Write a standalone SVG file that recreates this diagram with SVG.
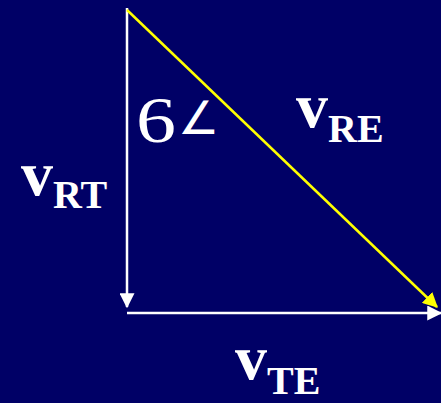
<svg xmlns="http://www.w3.org/2000/svg" width="441" height="403" viewBox="0 0 441 403">
<style>
.lbl{font-family:"Liberation Serif","Times New Roman",serif;font-weight:bold;fill:#fff}
.v{font-size:64px}
.s{font-size:40px}
</style>
<defs>
<marker id="aw" markerWidth="6" markerHeight="6" refX="5.5" refY="3" orient="auto" markerUnits="strokeWidth"><path d="M0,0 L6,3 L0,6 Z" fill="#fff"/></marker>
<marker id="ay" markerWidth="6" markerHeight="6" refX="5.5" refY="3" orient="auto" markerUnits="strokeWidth"><path d="M0,0 L6,3 L0,6 Z" fill="#ff0"/></marker>
</defs>
<rect width="441" height="403" fill="#000066"/>
<g id="connectors">
<line x1="127" y1="8" x2="127" y2="307" stroke="#fff" stroke-width="2.5" marker-end="url(#aw)"/>
<line x1="127" y1="313" x2="441" y2="313" stroke="#fff" stroke-width="2.5" marker-end="url(#aw)"/>
<line x1="127" y1="10" x2="437" y2="307" stroke="#ff0" stroke-width="2.5" marker-end="url(#ay)"/>
</g>
<g id="angle"><text x="136" y="142" font-family="'Liberation Serif',serif" font-size="66" fill="#fff"><tspan textLength="40" lengthAdjust="spacingAndGlyphs">6</tspan><tspan font-size="46" font-family="'DejaVu Sans',sans-serif" dy="-8" dx="2">∠</tspan></text></g>
<g id="vRT"><text class="lbl" x="21" y="195"><tspan class="v">v</tspan><tspan class="s" dy="13">RT</tspan></text></g>
<g id="vRE"><text class="lbl" x="296" y="127"><tspan class="v">v</tspan><tspan class="s" dy="15">RE</tspan></text></g>
<g id="vTE"><text class="lbl" x="235" y="379"><tspan class="v">v</tspan><tspan class="s" dy="15">TE</tspan></text></g>
</svg>
